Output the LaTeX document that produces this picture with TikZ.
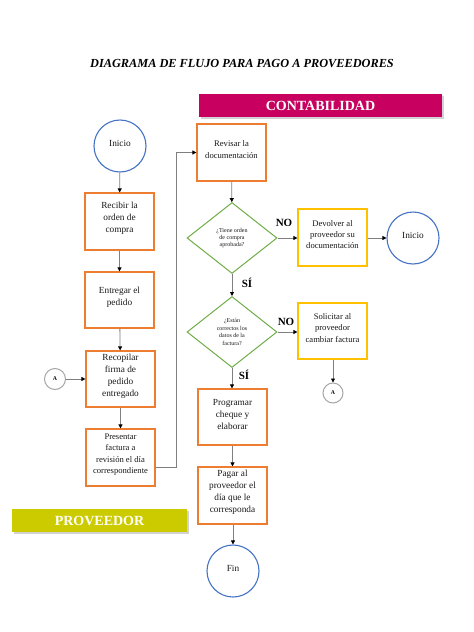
\documentclass[tikz,border=0pt]{standalone}
\usepackage{fontspec}
\setmainfont{Liberation Serif}
\usetikzlibrary{arrows.meta,shapes.geometric,shadows}
\definecolor{orangeB}{HTML}{ED7D31}
\definecolor{yellowB}{HTML}{FFC000}
\definecolor{greenB}{HTML}{70AD47}
\definecolor{blueB}{HTML}{4472C4}
\definecolor{greyB}{HTML}{A6A6A6}
\definecolor{magB}{HTML}{C8005F}
\definecolor{olivB}{HTML}{CCCB00}
\definecolor{lineC}{HTML}{7F7F7F}
\begin{document}
\begin{tikzpicture}[x=1pt,y=-1pt,
 txt/.style={label={[font=\fontsize{9.3}{12}\selectfont, align=center, yshift=3pt, text=black!90]center:#1}},
 stxt/.style={label={[font=\fontsize{8.6}{11.3}\selectfont, align=center, yshift=3pt, text=black!90]center:#1}},
 box/.style={draw=orangeB, line width=1.2pt, minimum width=69pt, minimum height=57pt, inner sep=0pt},
 ybox/.style={box, draw=yellowB},
 dec/.style={diamond, draw=greenB, line width=1pt, minimum width=90pt, minimum height=71pt, inner sep=0pt},
 dtxt/.style={label={[font=\fontsize{6}{7.4}\selectfont, align=center, text=black!90]center:#1}},
 term/.style={circle, draw=blueB, line width=1.1pt, minimum size=52pt, inner sep=0pt},
 conn/.style={circle, draw=greyB, line width=1pt, minimum size=21pt, inner sep=0pt, font=\bfseries\fontsize{5.8}{6}\selectfont},
 arr/.style={draw=lineC, line width=0.8pt, -{Triangle[length=4pt,width=4pt,color=black]}},
 ans/.style={font=\bfseries\fontsize{11}{12}\selectfont},
 banner/.style={minimum height=23pt, inner sep=0pt, text=white, font=\bfseries\fontsize{14}{16}\selectfont, drop shadow={shadow xshift=1.5pt, shadow yshift=-1.5pt, opacity=0.35}}
]
\useasboundingbox (0,0) rectangle (474,632);
\fill[white] (0,0) rectangle (474,632);

\node[font=\bfseries\itshape\fontsize{12.3}{14}\selectfont] (title) at (242,64) {DIAGRAMA DE FLUJO PARA PAGO A PROVEEDORES};
\node[banner, fill=magB, minimum width=243pt] (contab) at (320.5,105.5) {CONTABILIDAD};
\node[banner, fill=olivB, minimum width=175pt] (prov) at (99.5,520.5) {PROVEEDOR};

% left column
\node[term, txt={Inicio}] (inicio) at (120,146) {};
\node[box, txt={Recibir la\\orden de\\compra}] (recibir) at (119.5,221.5) {};
\node[box, minimum height=56pt, txt={Entregar el\\pedido}] (entregar) at (119.5,300) {};
\node[box, minimum height=56pt, txt={Recopilar\\firma de\\pedido\\entregado}] (recopilar) at (120.5,379) {};
\node[box, stxt={Presentar\\factura a\\revisión el día\\correspondiente}] (presentar) at (120.5,457.5) {};
\node[conn] (aleft) at (55,379) {A};

% middle column
\node[box, stxt={Revisar la\\documentación}] (revisar) at (231.5,152.5) {};
\node[dec, dtxt={¿Tiene orden\\de compra\\aprobada?}] (d1) at (232,238) {};
\node[dec, dtxt={¿Están\\correctos los\\datos de la\\factura?}] (d2) at (232,332) {};
\node[box, minimum height=56pt, txt={Programar\\cheque y\\elaborar}] (programar) at (232.5,417) {};
\node[box, txt={Pagar al\\proveedor el\\día que le\\corresponda}] (pagar) at (232.5,495.5) {};
\node[term, txt={Fin}] (fin) at (233,571) {};

% right column
\node[ybox, stxt={Devolver al\\proveedor su\\documentación}] (devolver) at (332.5,237.5) {};
\node[term, txt={Inicio}] (inicio2) at (413,238) {};
\node[ybox, minimum height=56pt, stxt={Solicitar al\\proveedor\\cambiar factura}] (solicitar) at (332.5,331) {};
\node[conn, minimum size=20pt] (abottom) at (333,393) {A};

% answer labels
\node[ans] (no1) at (284,223) {NO};
\node[ans] (si1) at (247,283) {SÍ};
\node[ans] (no2) at (286,322) {NO};
\node[ans] (si2) at (244,375) {SÍ};

% connectors
\draw[arr] (inicio) -- (recibir);
\draw[arr] (recibir) -- (entregar);
\draw[arr] (entregar) -- (recopilar);
\draw[arr] (recopilar) -- (presentar);
\draw[arr] (aleft) -- (recopilar);
\draw[arr] ([yshift=-9.5pt]presentar.east) -- ++(21,0) |- (revisar.west);
\draw[arr] (revisar) -- (d1);
\draw[arr] (d1.east) -- (devolver.west |- d1.east);
\draw[arr] (devolver.east |- inicio2.west) -- (inicio2.west);
\draw[arr] (d1.south) -- (d2.north);
\draw[arr] (d2.east) -- (solicitar.west |- d2.east);
\draw[arr] (solicitar.south -| abottom.north) -- (abottom.north);
\draw[arr] (d2.south) -- (d2.south |- programar.north);
\draw[arr] (programar) -- (pagar);
\draw[arr] (pagar.south -| fin.north) -- (fin.north);
\end{tikzpicture}
\end{document}
